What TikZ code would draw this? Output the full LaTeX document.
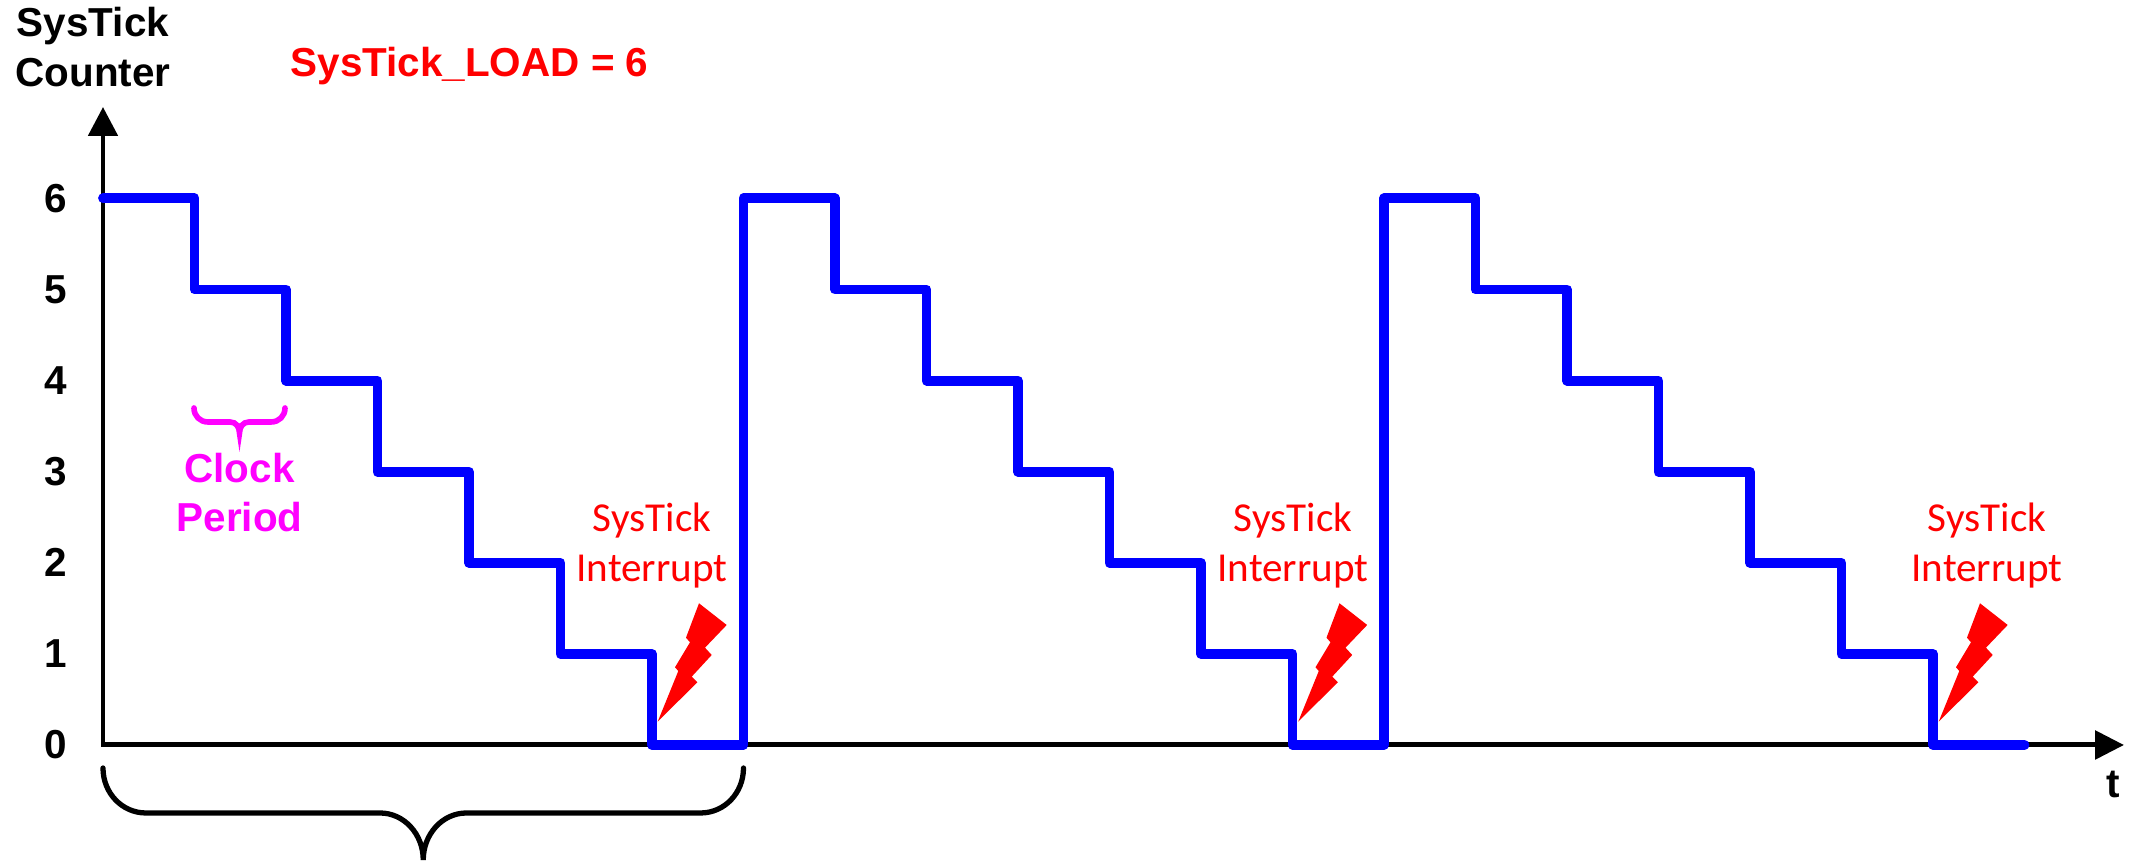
\documentclass[tikz,border=0pt]{standalone}
\usepackage{fontspec}
\setmainfont{Liberation Sans}
\newfontfamily\carlito{Carlito}
\usetikzlibrary{arrows.meta}
\definecolor{sblue}{RGB}{0,0,255}
\definecolor{sred}{RGB}{255,0,0}
\definecolor{smag}{RGB}{255,0,255}
\tikzset{
  lbl/.style={inner sep=0pt, font=\fontsize{11.5}{14}\selectfont\bfseries},
  intlbl/.style={inner sep=0pt, text=sred, font=\carlito\fontsize{11.7}{14.2}\selectfont},
  axisline/.style={line width=1.42pt, black, line join=miter},
  wave/.style={line width=2.8pt, sblue, line cap=round, line join=round},
  bigbrace/.style={line width=1.5pt, black, line cap=round},
  clkbrace/.style={line width=1.6pt, smag, line cap=round},
  bolt/.style={fill=sred, draw=none}
}
\begin{document}
\begin{tikzpicture}[x=0.01cm,y=-0.01cm]
\useasboundingbox (0,0) rectangle (2138,865);
% axes
\coordinate (origin) at (103,745);
\coordinate (ytip) at (103,107);
\coordinate (xtip) at (2124,745);
\draw[axisline, {Triangle[length=8.2pt,width=8.2pt]}-{Triangle[length=8.2pt,width=8pt]}] (ytip) -- (origin) -- (xtip);
% y labels
\foreach \k in {0,...,6} {
  \node[lbl] (ylab\k) at (56,{745-91.1*\k}) {\k};
}
\node[lbl, anchor=base] (ctitle1) at (93,37) {SysTick};
\node[lbl, anchor=base] (ctitle2) at (93,87) {Counter};
\node[lbl, anchor=base, text=sred] (load) at (469.5,77) {SysTick\_LOAD = 6};
\node[lbl, anchor=center] (tlab) at (2113,784) {t};
% waveform
\draw[wave] (103,198.4) -| (194.5,289.5) -| (286,380.6) -| (377.5,471.7) -| (469,562.8) -| (560.5,653.9) -| (652,745) -| (743.5,198.4)
 -| (835,289.5) -| (926.5,380.6) -| (1018,471.7) -| (1109.5,562.8) -| (1201,653.9) -| (1292.5,745) -| (1384,198.4)
 -| (1475.5,289.5) -| (1567,380.6) -| (1658.5,471.7) -| (1750,562.8) -| (1841.5,653.9) -| (1933,745) -- (2024.5,745);
% clock period brace and label
\draw[clkbrace] (194,408) .. controls (194,416) and (200,422) .. (208,422) -- (230,422)
  .. controls (236,422) and (239.5,427) .. (239.5,433)
  .. controls (239.5,427) and (243,422) .. (249,422) -- (271,422)
  .. controls (279,422) and (285,416) .. (285,408);
\node[lbl, anchor=base, text=smag] (clk1) at (239.5,483) {Clock};
\node[lbl, anchor=base, text=smag] (clk2) at (239.5,532) {Period};
% interrupt labels
\foreach \d/\tx/\i in {652/652/1, 1292.5/1293/2, 1933/1987/3} {
  \node[intlbl, anchor=base] (sys\i) at (\tx,532) {SysTick};
  \node[intlbl, anchor=base] (int\i) at (\tx,582) {Interrupt};
  \begin{scope}[shift={(\d,0)}]
    \fill[bolt] (47,603.3) -- (74.7,625) -- (53,647.7) -- (59.7,655) -- (39.7,676.7) -- (45.3,682.3)
      -- (5.7,721.7) -- (26.3,671) -- (23,667.3) -- (38,642.3) -- (34,637.7) -- cycle;
  \end{scope}
}
% big brace
\draw[bigbrace] (103,768) .. controls (103,793) and (122,813) .. (146,813) -- (380,813)
  .. controls (404,813) and (423.25,834) .. (423.25,860)
  .. controls (423.25,834) and (442.5,813) .. (466.5,813) -- (700.5,813)
  .. controls (724.5,813) and (743.5,793) .. (743.5,768);
\end{tikzpicture}
\end{document}
